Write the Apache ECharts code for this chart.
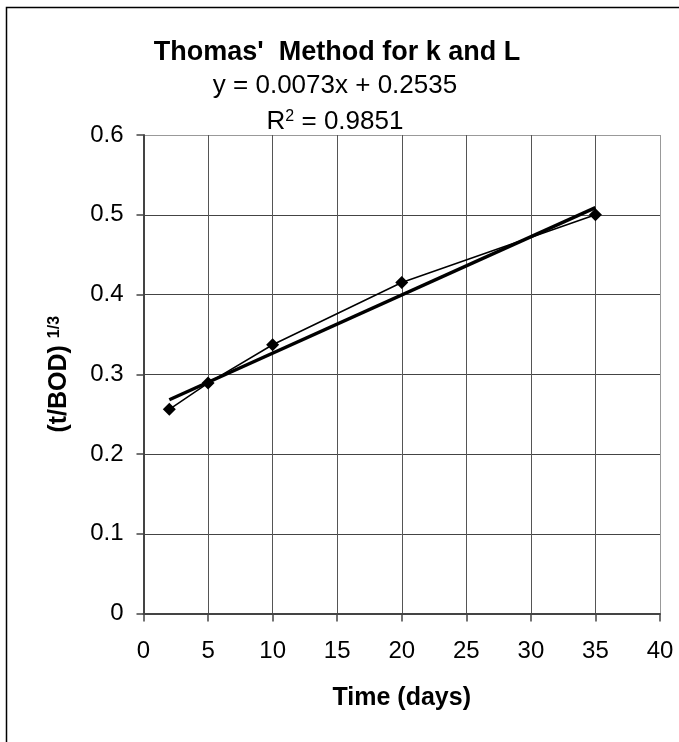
<!DOCTYPE html>
<html lang="en">
	<head>
		<meta charset="UTF-8">
		<title>Thomas' Method for k and L</title>
		<script src="https://cdn.jsdelivr.net/npm/echarts@6/dist/echarts.min.js"></script>
		<style>
			* {
				margin: 0;
				padding: 0;
			}
			body {
				background: #fff;
			}
		</style>
	</head>
	<body>
		<div id="main" style="width:679px;height:742px;"></div>
		<script>
			// 测量数据
			let timeData = [2, 5, 10, 20, 35];
			let valueData = [0.256, 0.289, 0.337, 0.415, 0.500];
			// 趋势线两端
			let trendX = [2, 35];
			let trendY = [0.268, 0.509];
			// 坐标轴范围
			let xRange = [0, 40, 5];
			let yRange = [0, 0.6, 0.1];
			let titleText = "Thomas'  Method for k and L";
			let eqText = 'y = 0.0073x + 0.2535';
			let r2Text = 'R{sup|2} = 0.9851';

			let font = "'Liberation Sans', Arial, sans-serif";
			let myChart = echarts.init(document.getElementById('main'));

			let option = {
				backgroundColor: '#fff',
				animation: false,
				title: [{
					text: titleText,
					left: 332,
					top: 34,
					textAlign: 'center',
					textStyle: {
						fontFamily: font,
						fontWeight: 'bold',
						fontSize: 27,
						color: '#000'
					}
				}, {
					text: eqText,
					left: 330,
					top: 68,
					textAlign: 'center',
					textStyle: {
						fontFamily: font,
						fontWeight: 'normal',
						fontSize: 26,
						color: '#000'
					}
				}, {
					text: r2Text,
					left: 330,
					top: 104,
					textAlign: 'center',
					textStyle: {
						fontFamily: font,
						fontWeight: 'normal',
						fontSize: 26,
						lineHeight: 26,
						color: '#000',
						rich: {
							sup: {
								fontFamily: font,
								fontSize: 16,
								verticalAlign: 'top',
								lineHeight: 18,
								color: '#000'
							}
						}
					}
				}],
				graphic: [{
					// 外框 (只露出左边和上边)
					type: 'rect',
					silent: true,
					shape: { x: 6.5, y: 7.5, width: 800, height: 800 },
					style: { fill: 'none', stroke: '#000', lineWidth: 1.5 }
				}],
				grid: {
					left: 143.5,
					right: 19,
					top: 135,
					bottom: 128.5
				},
				xAxis: {
					type: 'value',
					min: xRange[0],
					max: xRange[1],
					interval: xRange[2],
					name: 'Time (days)',
					nameLocation: 'middle',
					nameGap: 72,
					nameTextStyle: {
						fontFamily: font,
						fontWeight: 'bold',
						fontSize: 25,
						color: '#000'
					},
					axisLine: { onZero: false, lineStyle: { color: '#444', width: 2 } },
					axisTick: { show: true, inside: false, length: 8, lineStyle: { color: '#444', width: 1.5 } },
					axisLabel: {
						fontFamily: font,
						fontSize: 24,
						color: '#000',
						margin: 26
					},
					splitLine: {
						show: true,
						lineStyle: {
							color: ['#555', '#555', '#555', '#555', '#555', '#555', '#555', '#555', '#999'],
							width: 1
						}
					}
				},
				yAxis: {
					type: 'value',
					min: yRange[0],
					max: yRange[1],
					interval: yRange[2],
					name: '(t/BOD) {sup|1/3}',
					nameLocation: 'middle',
					nameGap: 72,
					nameTextStyle: {
						fontFamily: font,
						fontWeight: 'bold',
						fontSize: 25,
						color: '#000',
						rich: {
							sup: {
								fontFamily: font,
								fontWeight: 'bold',
								fontSize: 16,
								verticalAlign: 'top',
								color: '#000'
							}
						}
					},
					axisLine: { show: true, lineStyle: { color: '#444', width: 2 } },
					axisTick: { show: true, inside: false, length: 7, lineStyle: { color: '#444', width: 1.5 } },
					axisLabel: {
						fontFamily: font,
						fontSize: 24,
						color: '#000',
						margin: 20,
						formatter: function(v) {
							return v === 0 ? '0' : v.toFixed(1);
						}
					},
					splitLine: {
						show: true,
						lineStyle: {
							color: ['#444', '#444', '#444', '#444', '#444', '#444', '#999'],
							width: 1
						}
					}
				},
				series: [{
					name: 'data',
					type: 'line',
					data: timeData.map((t, i) => [t, valueData[i]]),
					symbol: 'diamond',
					symbolSize: 13,
					itemStyle: { color: '#000' },
					lineStyle: { color: '#000', width: 1.5 },
					z: 3
				}, {
					name: 'trend',
					type: 'line',
					data: trendX.map((t, i) => [t, trendY[i]]),
					symbol: 'none',
					lineStyle: { color: '#000', width: 3.5 },
					z: 4
				}]
			};
			myChart.setOption(option);
		</script>
	</body>
</html>
